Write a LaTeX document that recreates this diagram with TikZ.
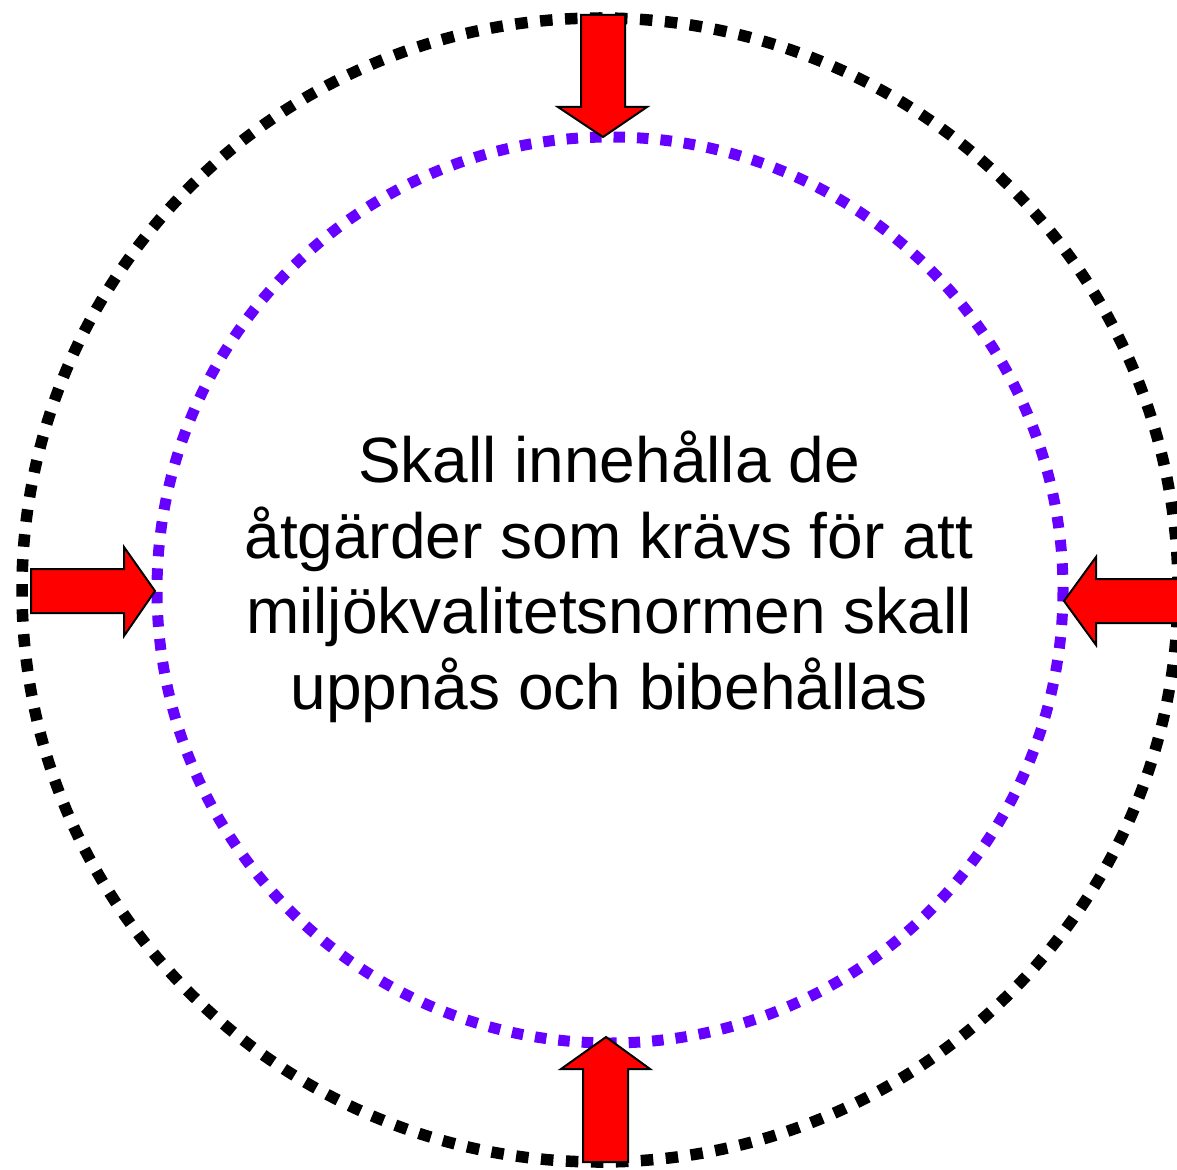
\documentclass[tikz,border=0pt]{standalone}
\usepackage{fontspec}
\setmainfont{Liberation Sans}
\definecolor{ringpurple}{RGB}{102,0,255}
\definecolor{arrowred}{RGB}{255,0,0}
\begin{document}
\begin{tikzpicture}[x=1pt,y=-1pt,
  outerring/.style={draw=black,line width=11.5pt,dash pattern=on 12.5pt off 12.5pt},
  innerring/.style={draw=ringpurple,line width=11pt,dash pattern=on 11.5pt off 12pt},
  blockarrow/.style={fill=arrowred,draw=black,line width=2pt,line join=miter}]
\useasboundingbox (0,0) rectangle (1177,1169);
\clip (0,0) rectangle (1177,1169);
% rings
\draw[outerring] (600,590) ellipse [x radius=578, y radius=572];
\draw[innerring] (610,590) circle [radius=453];
% arrows
\draw[blockarrow] (581,15) -- (625,15) -- (625,107) -- (647,107) -- (603,137) -- (558,107) -- (581,107) -- cycle;
\draw[blockarrow] (31,569) -- (124,569) -- (124,547) -- (155,591) -- (124,636) -- (124,613) -- (31,613) -- cycle;
\draw[blockarrow] (1185,579) -- (1096,579) -- (1096,557) -- (1064,601) -- (1096,645) -- (1096,623) -- (1185,623) -- cycle;
\draw[blockarrow] (583,1162) -- (583,1069) -- (561,1069) -- (606,1037) -- (650,1069) -- (628,1069) -- (628,1162) -- cycle;
% text
\node[align=center,font=\fontsize{64}{75.5}\selectfont,inner sep=0pt,anchor=base] (txt) at (609,709)
  {Skall innehålla de\\åtgärder som krävs för att\\miljökvalitetsnormen skall\\uppnås och bibehållas};
\end{tikzpicture}
\end{document}
